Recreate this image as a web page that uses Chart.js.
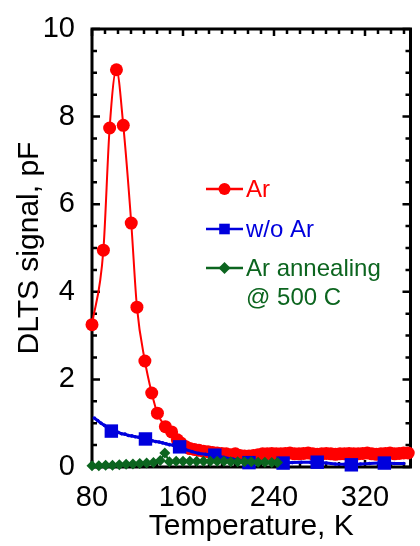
<!DOCTYPE html>
<html>
<head>
<meta charset="utf-8">
<script src="https://cdn.jsdelivr.net/npm/chart.js@4.4.1/dist/chart.umd.min.js"></script>
<style>
  html, body { margin: 0; padding: 0; background: #fff; }
  canvas { display: block; }
</style>
</head>
<body>
<canvas id="chart" width="420" height="546"></canvas>
<script>
// x tick labels / y tick labels
const xTicks = [80, 160, 240, 320];
const yTicks = [0, 2, 4, 6, 8, 10];

// Ar
const arTemps = [80, 90, 95.5, 101.5, 107.5, 114.5, 119.5, 126.5, 132.5, 137.5, 144.5, 150, 155, 158,
  162, 166, 170, 174, 178, 182, 186, 190, 194, 198, 202, 206, 210, 214, 218, 222, 226, 230, 234,
  238, 242, 246, 250, 254, 258, 262, 266, 270, 274, 278, 282, 286, 290, 294, 298, 302, 306, 310,
  314, 318, 322, 326, 330, 334, 338, 342, 346, 350, 354, 358];
const arValues = [3.25, 4.95, 7.74, 9.07, 7.8, 5.57, 3.65, 2.42, 1.69, 1.23, 0.92, 0.8, 0.62, 0.55,
  0.47, 0.42, 0.4, 0.38, 0.36, 0.35, 0.33, 0.32, 0.31, 0.3, 0.28, 0.3, 0.26, 0.25, 0.25, 0.26, 0.28, 0.3, 0.3,
  0.31, 0.3, 0.3, 0.31, 0.32, 0.3, 0.3, 0.31, 0.32, 0.3, 0.29, 0.3, 0.31, 0.3, 0.29, 0.3, 0.3, 0.31, 0.3,
  0.3, 0.31, 0.32, 0.3, 0.29, 0.3, 0.31, 0.32, 0.3, 0.31, 0.32, 0.32];

// w/o Ar: dense trace + sparse square markers
const noArTemps = [82, 85, 88, 91, 94, 97, 100, 103, 106, 109, 112, 115, 118, 121, 124, 127, 130, 133,
  136, 139, 142, 145, 148, 151, 154, 157, 162, 168, 174, 180, 188, 196, 204, 212, 218, 226, 234, 242,
  248, 256, 264, 272, 278, 286, 294, 302, 308, 316, 324, 332, 338, 346, 354];
const noArValues = [1.12, 1.06, 1.0, 0.95, 0.88, 0.84, 0.8, 0.79, 0.76, 0.75, 0.72, 0.71, 0.69, 0.68, 0.66,
  0.64, 0.62, 0.6, 0.58, 0.57, 0.55, 0.53, 0.51, 0.5, 0.48, 0.46, 0.4, 0.35, 0.31, 0.29, 0.27, 0.22, 0.18,
  0.15, 0.13, 0.12, 0.11, 0.1, 0.09, 0.1, 0.11, 0.11, 0.11, 0.09, 0.07, 0.06, 0.05, 0.07, 0.08, 0.09, 0.09,
  0.08, 0.08];
const noArMarkTemps = [97, 127, 157, 188, 218, 248, 278, 308, 337];
const noArMarkValues = [0.82, 0.64, 0.46, 0.27, 0.1, 0.09, 0.11, 0.05, 0.09];

// Ar annealing @ 500 C
const annTemps = [80, 86, 92, 98, 104, 110, 116, 122, 128, 134, 140, 144, 148, 154, 160, 166, 172,
  178, 184, 190, 196, 202, 208, 214, 220, 226, 232, 238, 243];
const annValues = [0.03, 0.03, 0.04, 0.04, 0.05, 0.06, 0.07, 0.08, 0.09, 0.1, 0.15, 0.32, 0.12, 0.13,
  0.13, 0.13, 0.13, 0.13, 0.13, 0.13, 0.13, 0.12, 0.12, 0.12, 0.12, 0.11, 0.11, 0.1, 0.1];

const RED = '#ff0000';
const BLUE = '#0000dd';
const GREEN = '#0c651f';
const FONT = "'Liberation Sans', Arial, sans-serif";

const pts = (xs, ys) => xs.map((x, i) => ({ x: x, y: ys[i] }));

// frame with inward ticks on all four sides
const framePlugin = {
  id: 'frame',
  beforeDatasetsDraw(chart) {
    const { ctx, chartArea: a, scales: { x, y } } = chart;
    ctx.save();
    ctx.strokeStyle = '#000';
    ctx.lineWidth = 2.5;
    ctx.beginPath();
    const xStep = 80 / 7;
    for (let i = 0; 80 + i * xStep <= 360.01; i++) {
      const px = x.getPixelForValue(80 + i * xStep);
      const len = (i % 7 === 0) ? 7 : 5;
      ctx.moveTo(px, a.bottom); ctx.lineTo(px, a.bottom - len);
      ctx.moveTo(px, a.top); ctx.lineTo(px, a.top + len);
    }
    for (let v = 0; v <= 10.01; v += 0.5) {
      const py = y.getPixelForValue(v);
      const len = (Math.round(v * 2) % 4 === 0) ? 8 : 5;
      ctx.moveTo(a.left, py); ctx.lineTo(a.left + len, py);
      ctx.moveTo(a.right, py); ctx.lineTo(a.right - len, py);
    }
    ctx.stroke();
    ctx.lineWidth = 3;
    ctx.strokeRect(a.left, a.top, a.right - a.left, a.bottom - a.top);
    ctx.restore();
  }
};

// legend inside the plot
const legendPlugin = {
  id: 'insideLegend',
  afterDraw(chart) {
    const { ctx } = chart;
    const ds = chart.data.datasets;
    const entries = [
      { color: RED, style: 'circle', r: 6, y: 189, lines: [ds[0].label] },
      { color: BLUE, style: 'rect', r: 7.5, y: 229, lines: [ds[2].label] },
      { color: GREEN, style: 'rectRot', r: 6, y: 268, lines: ds[3].label.split('\n') }
    ];
    ctx.save();
    ctx.font = '24px ' + FONT;
    ctx.textBaseline = 'middle';
    entries.forEach(e => {
      ctx.strokeStyle = e.color;
      ctx.fillStyle = e.color;
      ctx.lineWidth = 2.5;
      ctx.beginPath();
      ctx.moveTo(206, e.y); ctx.lineTo(243, e.y);
      ctx.stroke();
      Chart.helpers.drawPoint(ctx, { pointStyle: e.style, radius: e.r, rotation: 0, borderWidth: 0 }, 224.5, e.y);
      e.lines.forEach((t, i) => ctx.fillText(t, 246, e.y + 1 + i * 29));
    });
    ctx.restore();
  }
};

new Chart(document.getElementById('chart'), {
  type: 'line',
  data: {
    datasets: [
      { label: 'Ar', data: pts(arTemps, arValues), borderColor: RED, backgroundColor: RED,
        borderWidth: 2, pointRadius: 6.5, pointStyle: 'circle', pointBorderWidth: 0,
        cubicInterpolationMode: 'monotone', order: 3, clip: false },
      { label: 'w/o Ar trace', data: pts(noArTemps, noArValues), borderColor: BLUE, backgroundColor: BLUE,
        borderWidth: 3, pointRadius: 1.8, pointBorderWidth: 0, order: 2, clip: false },
      { label: 'w/o Ar', data: pts(noArMarkTemps, noArMarkValues), borderColor: BLUE, backgroundColor: BLUE,
        showLine: false, pointRadius: 9.5, pointStyle: 'rect', pointBorderWidth: 0, order: 1, clip: false },
      { label: 'Ar annealing\n@ 500 C', data: pts(annTemps, annValues), borderColor: GREEN, backgroundColor: GREEN,
        borderWidth: 2, pointRadius: 5.5, pointStyle: 'rectRot', pointBorderWidth: 0, order: 0, clip: false }
    ]
  },
  options: {
    responsive: false,
    animation: false,
    events: [],
    layout: { padding: { top: 29, right: 3, left: 0, bottom: 0 } },
    plugins: { legend: { display: false }, tooltip: { enabled: false } },
    scales: {
      x: {
        type: 'linear', min: 80, max: 360,
        afterBuildTicks: s => { s.ticks = xTicks.map(v => ({ value: v })); },
        afterFit: s => { s.height = 79; },
        grid: { display: false }, border: { display: false },
        ticks: { color: '#000', padding: 6, font: { family: FONT, size: 29 }, maxRotation: 0 },
        title: { display: true, text: 'Temperature, K', color: '#000', padding: { top: 0, bottom: 1 },
          font: { family: FONT, size: 30 } }
      },
      y: {
        type: 'linear', min: 0, max: 10,
        afterBuildTicks: s => { s.ticks = yTicks.map(v => ({ value: v })); },
        afterFit: s => { s.width = 92; },
        grid: { display: false }, border: { display: false },
        ticks: { color: '#000', padding: 9, font: { family: FONT, size: 29 } },
        title: { display: true, text: 'DLTS signal, pF', color: '#000', padding: { top: 12, bottom: 0 },
          font: { family: FONT, size: 30 } }
      }
    }
  },
  plugins: [framePlugin, legendPlugin]
});
</script>
</body>
</html>
